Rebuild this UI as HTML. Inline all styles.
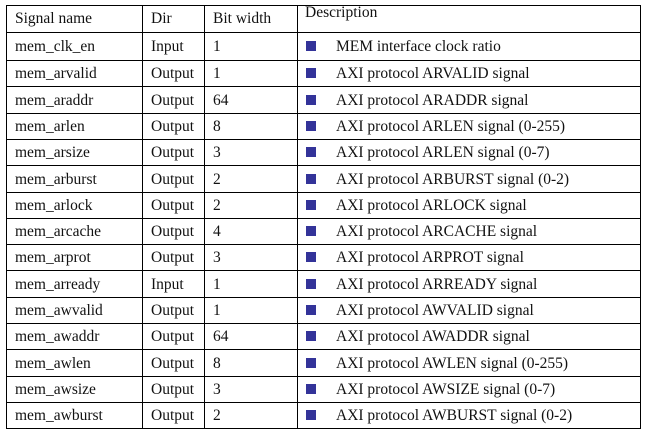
<!DOCTYPE html>
<html><head><meta charset="utf-8"><style>
body{margin:0;background:#fff;width:653px;height:434px;position:relative;overflow:hidden;font-family:"Liberation Serif",serif;font-size:15.5px;color:#111}
.h{position:absolute;background:#000;height:1px}
.v{position:absolute;background:#000;width:1px;top:5px;height:424px}
.t{position:absolute;white-space:nowrap;line-height:16px}
.b{position:absolute;width:10px;height:10px;background:#333399}
</style></head><body>
<div class="v" style="left:6px"></div>
<div class="v" style="left:142px"></div>
<div class="v" style="left:204px"></div>
<div class="v" style="left:297px"></div>
<div class="v" style="left:640px"></div>
<div id="rows"></div>
<script>
var d=[["mem_clk_en","Input","1","MEM interface clock ratio"],
["mem_arvalid","Output","1","AXI protocol ARVALID signal"],
["mem_araddr","Output","64","AXI protocol ARADDR signal"],
["mem_arlen","Output","8","AXI protocol ARLEN signal (0-255)"],
["mem_arsize","Output","3","AXI protocol ARLEN signal (0-7)"],
["mem_arburst","Output","2","AXI protocol ARBURST signal (0-2)"],
["mem_arlock","Output","2","AXI protocol ARLOCK signal"],
["mem_arcache","Output","4","AXI protocol ARCACHE signal"],
["mem_arprot","Output","3","AXI protocol ARPROT signal"],
["mem_arready","Input","1","AXI protocol ARREADY signal"],
["mem_awvalid","Output","1","AXI protocol AWVALID signal"],
["mem_awaddr","Output","64","AXI protocol AWADDR signal"],
["mem_awlen","Output","8","AXI protocol AWLEN signal (0-255)"],
["mem_awsize","Output","3","AXI protocol AWSIZE signal (0-7)"],
["mem_awburst","Output","2","AXI protocol AWBURST signal (0-2)"]];
var h='';
function L(y){h+='<div class="h" style="left:6px;width:635px;top:'+Math.round(y)+'px"></div>';}
L(5);L(32);
h+='<div class="t" style="left:15px;top:11px">Signal name</div><div class="t" style="left:151px;top:11px">Dir</div><div class="t" style="left:213px;top:11px">Bit width</div><div class="t" style="left:305px;top:5px">Description</div>';
var tops=[32,60];for(var i=2;i<=15;i++)tops.push(60+(i-1)*26.3);
for(var i=0;i<15;i++){var y0=Math.round(tops[i]),y1=Math.round(tops[i+1]);L(y1);var ty=Math.round((y0+y1)/2-8+1);
h+='<div class="t" style="left:15px;top:'+ty+'px">'+d[i][0]+'</div><div class="t" style="left:151px;top:'+ty+'px">'+d[i][1]+'</div><div class="t" style="left:213px;top:'+ty+'px">'+d[i][2]+'</div><div class="b" style="left:306px;top:'+(ty+2)+'px"></div><div class="t" style="left:336px;top:'+ty+'px">'+d[i][3]+'</div>';}
document.getElementById('rows').innerHTML=h;
</script>
</body></html>
